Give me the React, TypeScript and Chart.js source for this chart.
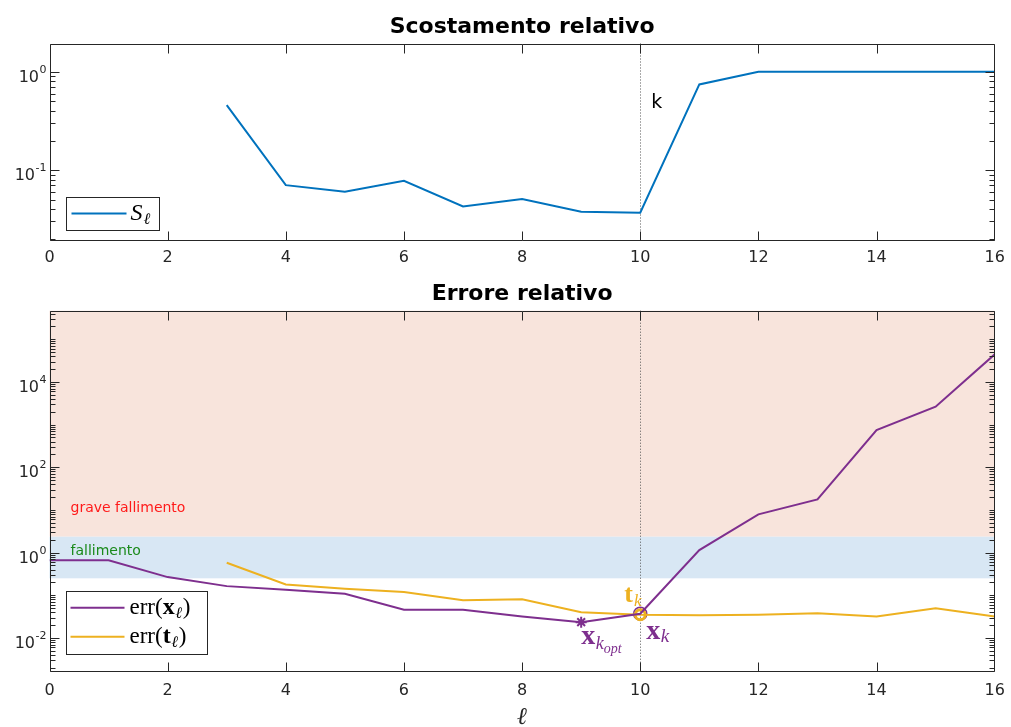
import React, { useEffect, useRef } from "react";
import { Chart, registerables } from "chart.js";

Chart.register(...registerables);

// ---------------- data ----------------
const xTickValues = [0, 2, 4, 6, 8, 10, 12, 14, 16];

const sEll = [3, 4, 5, 6, 7, 8, 9, 10, 11, 12, 13, 14, 15, 16];
const sValues = [0.458, 0.0703, 0.0601, 0.0778, 0.0427, 0.0507, 0.0377, 0.0368, 0.744, 1.0, 1.0, 1.0, 1.0, 1.0];

const errXEll = [0, 1, 2, 3, 4, 5, 6, 7, 8, 9, 10, 11, 12, 13, 14, 15, 16];
const errXValues = [0.66, 0.66, 0.267, 0.164, 0.135, 0.109, 0.046, 0.046, 0.032, 0.0235, 0.037, 1.15, 7.9, 17.7, 747, 2625, 44400];

const errTEll = [3, 4, 5, 6, 7, 8, 9, 10, 11, 12, 13, 14, 15, 16];
const errTValues = [0.58, 0.18, 0.143, 0.119, 0.077, 0.081, 0.04, 0.035, 0.034, 0.035, 0.038, 0.032, 0.05, 0.032];

const kIndex = 10;
const kOptIndex = 9;

const topYExponents = [-1, 0];
const bottomYExponents = [-2, 0, 2, 4];
const topYMin = 0.019;
const topYMax = 1.94;
const bottomYMin = 0.00162;
const bottomYMax = 467000;
const failureLow = 0.25;
const failureHigh = 2.36;

const topTitle = "Scostamento relativo";
const bottomTitle = "Errore relativo";
const severeLabel = "grave fallimento";
const failureLabel = "fallimento";

// ---------------- style ----------------
const W = 1011;
const TOP_H = 262;
const BOT_H = 465;
const PLOT_LEFT = 49.5;
const PLOT_RIGHT_PAD = 16.3;

const BLUE = "#0072BD";
const PURPLE = "#7E2F8E";
const ORANGE = "#EDB120";
const AXIS = "#262626";
const SEVERE_FILL = "#f8e4dc";
const FAIL_FILL = "#d8e7f4";

const SANS = '"DejaVu Sans", sans-serif';
const SERIF = '"Liberation Serif", "DejaVu Serif", serif';

type Run = { t: string; font: string; dy?: number; dx?: number };

function drawRuns(ctx: CanvasRenderingContext2D, x: number, y: number, runs: Run[], color: string) {
  ctx.fillStyle = color;
  ctx.textAlign = "left";
  ctx.textBaseline = "alphabetic";
  let cx = x;
  for (const r of runs) {
    ctx.font = r.font;
    cx += r.dx || 0;
    ctx.fillText(r.t, cx, y + (r.dy || 0));
    cx += ctx.measureText(r.t).width;
  }
}

function axesPlugin(opts: {
  yExps: number[];
  title: string;
  kLabel?: boolean;
  bands?: boolean;
  legend: "top" | "bottom";
  annotations?: boolean;
  xTitle?: boolean;
}) {
  return {
    id: "matlabAxes",
    beforeDatasetsDraw(chart: any) {
      const ctx: CanvasRenderingContext2D = chart.ctx;
      const { left, right, top, bottom } = chart.chartArea;
      const xs = chart.scales.x;
      const ys = chart.scales.y;
      ctx.save();
      if (opts.bands) {
        const yHigh = ys.getPixelForValue(failureHigh);
        const yLow = ys.getPixelForValue(failureLow);
        ctx.fillStyle = SEVERE_FILL;
        ctx.fillRect(left, top, right - left, yHigh - top);
        ctx.fillStyle = FAIL_FILL;
        ctx.fillRect(left, yHigh, right - left, yLow - yHigh);
        ctx.font = `14px ${SANS}`;
        ctx.textAlign = "left";
        ctx.textBaseline = "alphabetic";
        ctx.fillStyle = "#ff1a1a";
        ctx.fillText(severeLabel, left + 21, yHigh - 25);
        ctx.fillStyle = "#1a8a1a";
        ctx.fillText(failureLabel, left + 21, yHigh + 18.5);
      }
      // dotted vertical line at k
      const kx = Math.round(xs.getPixelForValue(kIndex)) + 0.5;
      ctx.strokeStyle = "#555";
      ctx.lineWidth = 1;
      ctx.setLineDash([1, 2]);
      ctx.beginPath();
      ctx.moveTo(kx, top);
      ctx.lineTo(kx, bottom);
      ctx.stroke();
      ctx.setLineDash([]);
      ctx.restore();
    },
    afterDatasetsDraw(chart: any) {
      const ctx: CanvasRenderingContext2D = chart.ctx;
      const { left, right, top, bottom } = chart.chartArea;
      const xs = chart.scales.x;
      const ys = chart.scales.y;
      ctx.save();
      ctx.strokeStyle = AXIS;
      ctx.lineWidth = 1;
      // box
      const L = Math.round(left) + 0.5;
      const R = Math.round(right) - 0.5;
      const T = Math.round(top) + 0.5;
      const B = Math.round(bottom) - 0.5;
      ctx.beginPath();
      ctx.rect(L, T, R - L, B - T);
      ctx.stroke();
      // x ticks
      ctx.beginPath();
      for (const v of xTickValues) {
        const px = Math.min(Math.round(xs.getPixelForValue(v)) + 0.5, R);
        ctx.moveTo(px, B);
        ctx.lineTo(px, B - 9);
        ctx.moveTo(px, T);
        ctx.lineTo(px, T + 9);
      }
      // y ticks
      const minE = Math.floor(Math.log10(ys.min));
      const maxE = Math.ceil(Math.log10(ys.max));
      for (let e = minE; e <= maxE; e++) {
        for (let k = 1; k <= 9; k++) {
          const v = k * Math.pow(10, e);
          if (v < ys.min || v > ys.max) continue;
          const major = k === 1 && opts.yExps.includes(e);
          const len = major ? 9 : 5;
          const py = Math.round(ys.getPixelForValue(v)) + 0.5;
          ctx.moveTo(L, py);
          ctx.lineTo(L + len, py);
          ctx.moveTo(R, py);
          ctx.lineTo(R - len, py);
        }
      }
      ctx.stroke();
      // y tick labels 10^e
      ctx.fillStyle = AXIS;
      ctx.textBaseline = "alphabetic";
      for (const e of opts.yExps) {
        const py = ys.getPixelForValue(Math.pow(10, e));
        const expStr = e < 0 ? "-" + Math.abs(e) : String(e);
        ctx.font = `11px ${SANS}`;
        ctx.textAlign = "right";
        const ew = ctx.measureText(expStr).width;
        const xr = left - 3;
        ctx.fillText(expStr, xr, py + 1);
        ctx.font = `16px ${SANS}`;
        ctx.fillText("10", xr - ew - 0.5, py + 10);
      }
      // title
      ctx.font = `bold 22px ${SANS}`;
      ctx.textAlign = "center";
      ctx.fillStyle = "#000";
      ctx.fillText(opts.title, (left + right) / 2, top - 10.5);
      // k label
      const kx = xs.getPixelForValue(kIndex);
      if (opts.kLabel) {
        ctx.font = `19px ${SANS}`;
        ctx.textAlign = "left";
        ctx.fillStyle = "#000";
        ctx.fillText("k", kx + 11, top + 64);
      }
      // legend
      ctx.lineWidth = 1;
      ctx.strokeStyle = AXIS;
      if (opts.legend === "top") {
        const bx = left + 16;
        const by = bottom - 44;
        ctx.fillStyle = "#fff";
        ctx.fillRect(bx, by, 93, 33);
        ctx.strokeRect(Math.round(bx) + 0.5, Math.round(by) + 0.5, 93, 33);
        ctx.strokeStyle = BLUE;
        ctx.lineWidth = 2;
        ctx.beginPath();
        ctx.moveTo(bx + 6, by + 16.5);
        ctx.lineTo(bx + 61, by + 16.5);
        ctx.stroke();
        drawRuns(ctx, bx + 65, by + 22.5, [
          { t: "S", font: `italic 24px ${SERIF}` },
          { t: "ℓ", font: `italic 16px ${SERIF}`, dy: 4, dx: 1 },
        ], "#000");
      } else {
        const bx = left + 16;
        const by = bottom - 81;
        ctx.fillStyle = "#fff";
        ctx.fillRect(bx, by, 141, 63);
        ctx.strokeRect(Math.round(bx) + 0.5, Math.round(by) + 0.5, 141, 63);
        const rows = [
          { c: PURPLE, sym: "x" },
          { c: ORANGE, sym: "t" },
        ];
        rows.forEach((r, i) => {
          const ly = by + 17 + i * 29;
          ctx.strokeStyle = r.c;
          ctx.lineWidth = 2;
          ctx.beginPath();
          ctx.moveTo(bx + 5, ly);
          ctx.lineTo(bx + 59, ly);
          ctx.stroke();
          drawRuns(ctx, bx + 64, ly + 6.5, [
            { t: "err(", font: `23px ${SERIF}` },
            { t: r.sym, font: `bold 24px ${SERIF}` },
            { t: "ℓ", font: `italic 16px ${SERIF}`, dy: 4, dx: 0.5 },
            { t: ")", font: `23px ${SERIF}`, dx: 1 },
          ], "#000");
        });
      }
      // annotations
      if (opts.annotations) {
        const tky = ys.getPixelForValue(errTValues[errTEll.indexOf(kIndex)]);
        const xky = ys.getPixelForValue(errXValues[errXEll.indexOf(kIndex)]);
        const kox = xs.getPixelForValue(kOptIndex);
        const koy = ys.getPixelForValue(errXValues[errXEll.indexOf(kOptIndex)]);
        drawRuns(ctx, kx - 16, tky - 12.5, [
          { t: "t", font: `bold 26px ${SERIF}` },
          { t: "k", font: `italic 17px ${SERIF}`, dy: 4, dx: 1 },
        ], ORANGE);
        drawRuns(ctx, kx + 6, xky + 25, [
          { t: "x", font: `bold 28px ${SERIF}` },
          { t: "k", font: `italic 19px ${SERIF}`, dy: 3, dx: 0.5 },
        ], PURPLE);
        drawRuns(ctx, kox, koy + 22, [
          { t: "x", font: `bold 28px ${SERIF}` },
          { t: "k", font: `italic 18px ${SERIF}`, dy: 5, dx: 0.5 },
          { t: "opt", font: `italic 14px ${SERIF}`, dy: 9 },
        ], PURPLE);
      }
      if (opts.xTitle) {
        ctx.font = `italic 24px ${SERIF}`;
        ctx.textAlign = "center";
        ctx.fillStyle = AXIS;
        ctx.fillText("ℓ", (left + right) / 2, bottom + 52);
      }
      ctx.restore();
    },
  };
}

function scalesFor(H: number, plotBottom: number, yMin: number, yMax: number, yExps: number[], xPad: number) {
  return {
    x: {
      type: "linear",
      min: 0,
      max: 16,
      afterBuildTicks: (s: any) => {
        s.ticks = xTickValues.map((v) => ({ value: v }));
      },
      ticks: {
        font: { family: SANS, size: 16 },
        color: AXIS,
        padding: xPad,
        maxRotation: 0,
        autoSkip: false,
        callback: (v: any) => String(v),
      },
      grid: { display: false, drawTicks: false },
      border: { display: false },
      afterFit: (s: any) => {
        s.height = H - plotBottom;
        s.paddingLeft = 0;
        s.paddingRight = 0;
      },
    },
    y: {
      type: "logarithmic",
      min: yMin,
      max: yMax,
      afterBuildTicks: (s: any) => {
        s.ticks = yExps.map((e) => ({ value: Math.pow(10, e) }));
      },
      ticks: { display: false },
      grid: { display: false, drawTicks: false },
      border: { display: false },
      afterFit: (s: any) => {
        s.width = PLOT_LEFT;
        s.paddingTop = 0;
        s.paddingBottom = 0;
      },
    },
  };
}

const commonOptions = {
  responsive: false,
  animation: false,
  events: [],
  devicePixelRatio: 1,
  plugins: { legend: { display: false }, tooltip: { enabled: false }, title: { display: false } },
};

function topConfig(): any {
  const plotTop = 43.5;
  const plotBottom = 241;
  return {
    type: "line",
    data: {
      datasets: [
        {
          label: "S",
          data: sEll.map((x, i) => ({ x, y: sValues[i] })),
          borderColor: BLUE,
          borderWidth: 2,
          pointRadius: 0,
          tension: 0,
        },
      ],
    },
    options: {
      ...commonOptions,
      layout: { padding: { top: plotTop, left: 0, right: PLOT_RIGHT_PAD, bottom: 0 } },
      scales: scalesFor(TOP_H, plotBottom, topYMin, topYMax, topYExponents, 7),
    },
    plugins: [axesPlugin({ yExps: topYExponents, title: topTitle, kLabel: true, legend: "top" })],
  };
}

function bottomConfig(): any {
  const plotTop = 48.7;
  const plotBottom = 409.7;
  return {
    type: "line",
    data: {
      datasets: [
        {
          label: "err(x)",
          data: errXEll.map((x, i) => ({ x, y: errXValues[i] })),
          borderColor: PURPLE,
          borderWidth: 2,
          pointRadius: 0,
          tension: 0,
        },
        {
          label: "err(t)",
          data: errTEll.map((x, i) => ({ x, y: errTValues[i] })),
          borderColor: ORANGE,
          borderWidth: 2,
          pointRadius: 0,
          tension: 0,
        },
        {
          label: "kopt",
          data: [{ x: kOptIndex, y: errXValues[errXEll.indexOf(kOptIndex)] }],
          showLine: false,
          pointStyle: "star",
          pointRadius: 5.5,
          borderWidth: 2,
          borderColor: PURPLE,
          backgroundColor: PURPLE,
        },
        {
          label: "tk",
          data: [{ x: kIndex, y: errTValues[errTEll.indexOf(kIndex)] }],
          showLine: false,
          pointStyle: "circle",
          pointRadius: 5,
          borderWidth: 3,
          borderColor: ORANGE,
          backgroundColor: "rgba(0,0,0,0)",
        },
        {
          label: "xk",
          data: [{ x: kIndex, y: errXValues[errXEll.indexOf(kIndex)] }],
          showLine: false,
          pointStyle: "circle",
          pointRadius: 6.5,
          borderWidth: 1.5,
          borderColor: PURPLE,
          backgroundColor: "rgba(0,0,0,0)",
        },
      ],
    },
    options: {
      ...commonOptions,
      layout: { padding: { top: plotTop, left: 0, right: PLOT_RIGHT_PAD, bottom: 0 } },
      scales: scalesFor(BOT_H, plotBottom, bottomYMin, bottomYMax, bottomYExponents, 10),
    },
    plugins: [
      axesPlugin({
        yExps: bottomYExponents,
        title: bottomTitle,
        bands: true,
        legend: "bottom",
        annotations: true,
        xTitle: true,
      }),
    ],
  };
}

export default function App() {
  const topRef = useRef<HTMLCanvasElement>(null);
  const botRef = useRef<HTMLCanvasElement>(null);
  useEffect(() => {
    const c1 = new Chart(topRef.current as HTMLCanvasElement, topConfig());
    const c2 = new Chart(botRef.current as HTMLCanvasElement, bottomConfig());
    return () => {
      c1.destroy();
      c2.destroy();
    };
  }, []);
  return (
    <div style={{ position: "absolute", left: 0, top: 0, width: W, height: TOP_H + BOT_H, background: "#fff" }}>
      <canvas ref={topRef} width={W} height={TOP_H} style={{ display: "block", width: W, height: TOP_H }} />
      <canvas ref={botRef} width={W} height={BOT_H} style={{ display: "block", width: W, height: BOT_H }} />
    </div>
  );
}
